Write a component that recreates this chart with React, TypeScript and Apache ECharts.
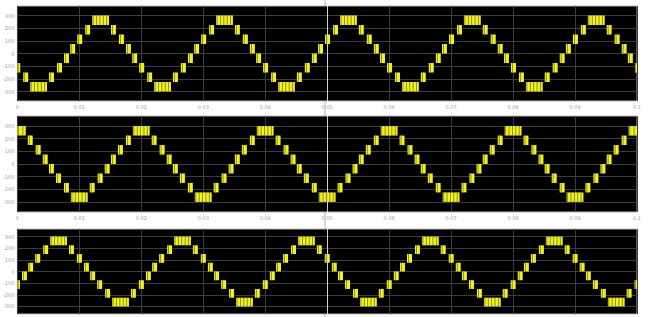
import React, { useEffect, useRef } from "react";
import * as echarts from "echarts";

// ---- data ----
const timeRange = [0, 0.1];
const xTickStep = 0.01;
const yTickValues = [-300, -200, -100, 0, 100, 200, 300];
const period = 0.02;
// one positive half-cycle of the staircase PWM, offsets (s) after the rising zero crossing:
// [start, end, lower level, upper level]
const halfCycleBlocks = [
  [0.0001, 0.0009, 0, 75],
  [0.00123, 0.00204, 75, 150],
  [0.00252, 0.00332, 150, 225],
  [0.00364, 0.00636, 225, 300],
  [0.00668, 0.00748, 150, 225],
  [0.00796, 0.00877, 75, 150],
  [0.0091, 0.0099, 0, 75],
];
// rising zero crossing of each panel's phase (s)
const risingZeroCrossings = [0.00843, 0.015, 0.00165];
// y-axis limits of each panel
const yLimits = [375, 380, 365];

function buildBlocks(tUp: number) {
  const out: number[][] = [];
  for (let k = -1; k <= 5; k++) {
    const base = tUp + k * period;
    for (const b of halfCycleBlocks) {
      const items = [
        [base + b[0], base + b[1], b[2], b[3]],
        [base + period / 2 + b[0], base + period / 2 + b[1], -b[3], -b[2]],
      ];
      for (const it of items) {
        let s = it[0], e = it[1];
        if (e <= timeRange[0] || s >= timeRange[1]) continue;
        s = Math.max(s, timeRange[0]);
        e = Math.min(e, timeRange[1]);
        out.push([s, e, it[2], it[3]]);
      }
    }
  }
  return out;
}

const gridPos = [
  { left: 13, top: 6, width: 624, height: 95 },
  { left: 13, top: 116, width: 624, height: 96 },
  { left: 13, top: 229, width: 624, height: 85 },
];

export default function App() {
  const ref = useRef<HTMLDivElement>(null);
  useEffect(() => {
    if (!ref.current) return;
    const chart = echarts.init(ref.current, null, { renderer: "svg" });
    const grids = gridPos.map((g) => ({
      ...g,
      show: true,
      backgroundColor: "#000",
      borderColor: "#b8b8b8",
      borderWidth: 1,
    }));
    const xAxes = gridPos.map((_, i) => ({
      type: "value",
      gridIndex: i,
      min: timeRange[0],
      max: timeRange[1],
      interval: xTickStep,
      axisLine: { show: false },
      axisTick: { show: false },
      axisLabel: {
        show: i < 2,
        color: "#a0a0a0",
        fontSize: 5,
        margin: 3,
        fontFamily: "DejaVu Sans",
        formatter: (v: number) => String(+v.toFixed(2)),
      },
      splitLine: { show: true, lineStyle: { color: "#3c3c3c", width: 1 } },
    }));
    const yAxes = gridPos.map((_, i) => ({
      type: "value",
      gridIndex: i,
      min: -yLimits[i],
      max: yLimits[i],
      axisLine: { show: false },
      axisTick: { show: false, customValues: yTickValues },
      axisLabel: {
        color: "#a0a0a0",
        fontSize: 5,
        margin: 3,
        fontFamily: "DejaVu Sans",
        customValues: yTickValues,
      },
      splitLine: { show: true, lineStyle: { color: "#3c3c3c", width: 1 } },
    }));
    const series = gridPos.map((_, i) => ({
      type: "custom",
      xAxisIndex: i,
      yAxisIndex: i,
      clip: true,
      data: buildBlocks(risingZeroCrossings[i]),
      encode: { x: [0, 1], y: [2, 3] },
      renderItem: (params: any, api: any) => {
        const p0 = api.coord([api.value(0), api.value(3)]);
        const p1 = api.coord([api.value(1), api.value(2)]);
        const x = p0[0], y = p0[1];
        const w = p1[0] - p0[0], h = p1[1] - p0[1];
        const children: any[] = [
          { type: "rect", shape: { x, y, width: w, height: h }, style: { fill: "#f2f21c" } },
        ];
        const n = Math.max(1, Math.round(w / 3.5));
        for (let j = 0; j < n; j++) {
          children.push({
            type: "rect",
            shape: { x: x + (w * (j + 0.3)) / n - 0.4, y, width: 0.8, height: h },
            style: { fill: "#7c7a08" },
          });
        }
        return { type: "group", children };
      },
      markLine: {
        silent: true,
        symbol: "none",
        label: { show: false },
        lineStyle: { color: "#cfcfcf", type: "solid", width: 1 },
        data: [{ xAxis: 0.05 }],
      },
    }));
    chart.setOption({
      animation: false,
      backgroundColor: "#fff",
      grid: grids,
      xAxis: xAxes,
      yAxis: yAxes,
      series,
      graphic: [
        {
          type: "line",
          z: -1,
          shape: { x1: 325, y1: 0, x2: 325, y2: 317 },
          style: { stroke: "#b0b0b0", lineWidth: 1 },
        },
      ],
    });
    return () => chart.dispose();
  }, []);
  return (
    <div
      ref={ref}
      style={{ position: "absolute", left: 0, top: 0, width: 649, height: 317 }}
    />
  );
}
